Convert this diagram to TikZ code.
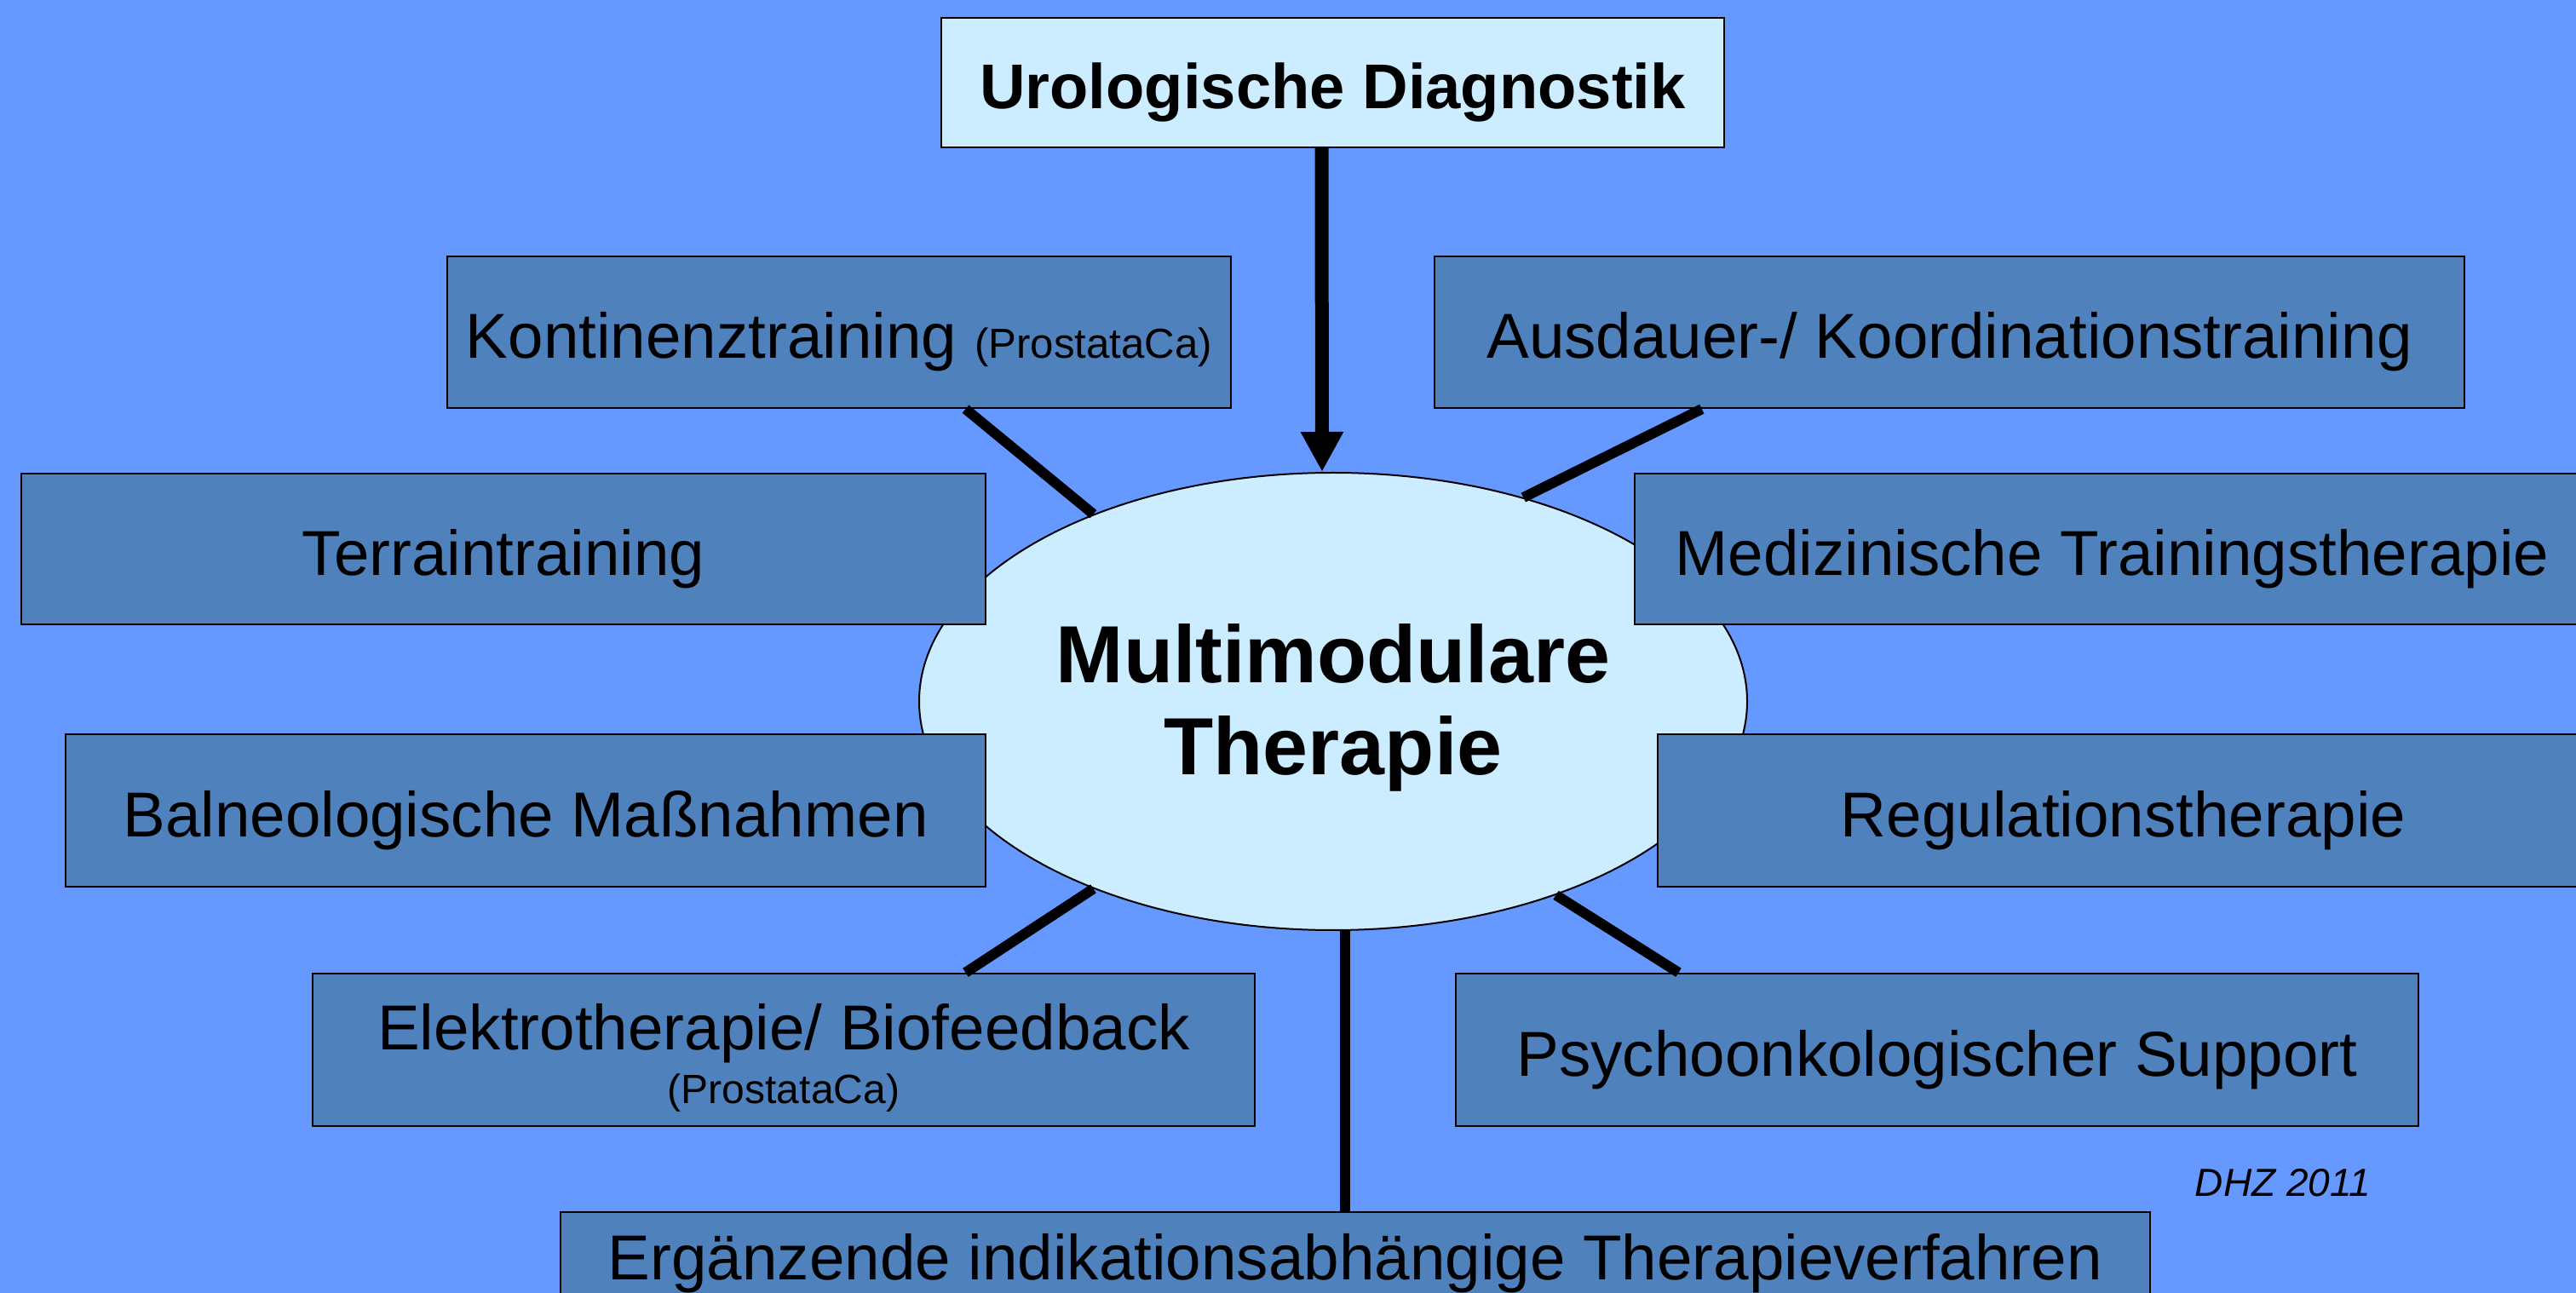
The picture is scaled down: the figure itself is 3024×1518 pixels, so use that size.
\documentclass[tikz,border=0pt]{standalone}
\usepackage{fontspec}
\setmainfont{Liberation Sans}
\usetikzlibrary{calc,arrows.meta,shapes.geometric}
\definecolor{bg}{HTML}{6699FF}
\definecolor{boxfill}{HTML}{4F81BD}
\definecolor{lightfill}{HTML}{CCECFF}
\tikzset{
  modbox/.style={draw=black, line width=0.6pt, fill=boxfill, inner sep=0pt,
    font=\fontsize{18.65}{22}\selectfont, text height=19.4pt, text depth=3.95pt},
  topbox/.style={modbox, fill=lightfill, font=\fontsize{18.55}{22}\selectfont\bfseries},
  centerell/.style={ellipse, draw=black, line width=0.5pt, fill=lightfill, inner sep=0pt,
    align=center, font=\fontsize{23.8}{27}\selectfont\bfseries, text height=48.25pt, text depth=5pt},
  conn/.style={line width=3pt, draw=black},
  mainarrow/.style={line width=4pt, draw=black, -{Triangle[width=11.75pt,length=11.75pt]}}
}
\begin{document}
\begin{tikzpicture}[x=0.25pt,y=-0.25pt]
\useasboundingbox (0,0) rectangle (3024,1518);
\clip (0,0) rectangle (3024,1518);
\fill[bg] (0,0) rectangle (3024,1518);

\node[centerell, minimum width=243pt, minimum height=134.25pt] (ell) at (1565,823.5) {Multimodulare\\Therapie};

\node[topbox, minimum width=229.75pt, minimum height=38pt] (urol) at (1564.5,97) {Urologische Diagnostik};
\node[modbox, minimum width=230pt, minimum height=44.5pt] (kont) at (985,390) {Kontinenztraining {\fontsize{12.3}{14}\selectfont (ProstataCa)}};
\node[modbox, minimum width=302.25pt, minimum height=44.5pt] (ausd) at (2288.5,390) {Ausdauer-/ Koordinationstraining};
\node[modbox, minimum width=283pt, minimum height=44.25pt] (terr) at (591,644.5) {Terraintraining};
\node[modbox, minimum width=280.25pt, minimum height=44.25pt] (medi) at (2479.5,644.5) {Medizinische Trainingstherapie};
\node[modbox, minimum width=270pt, minimum height=44.75pt] (baln) at (617,951.5) {Balneologische Maßnahmen};
\node[modbox, minimum width=273.25pt, minimum height=44.75pt] (regu) at (2492.5,951.5) {Regulationstherapie};
\node[modbox, minimum width=276.5pt, minimum height=44.75pt, align=center, text height=34.25pt, text depth=3pt] (elek) at (920,1232.5) {Elektrotherapie/ Biofeedback\\[-6.25pt]{\fontsize{12}{14}\selectfont (ProstataCa)}};
\node[modbox, minimum width=282.5pt, minimum height=44.75pt] (psyc) at (2274,1232.5) {Psychoonkologischer Support};
\node[modbox, minimum width=466.5pt, minimum height=24.25pt] (erg) at (1591,1471.5) {Ergänzende indikationsabhängige Therapieverfahren};

\node[anchor=base, font=\fontsize{11.5}{14}\selectfont\itshape] (dhz) at (2680,1404) {DHZ 2011};

\draw[mainarrow] ($(urol.south)+(-13,0)$) -- ($(ell.north)+(-13,0)$);
\draw[conn] ($(kont.south west)!0.661!(kont.south east)$) -- (ell.142);
\draw[conn] ($(ausd.south west)!0.26!(ausd.south east)$) -- (ell.47);
\draw[conn] ($(elek.north west)!0.6926!(elek.north east)$) -- (ell.218);
\draw[conn] ($(psyc.north west)!0.232!(psyc.north east)$) -- (ell.319);
\draw[conn] (ell.-87.4) -- (ell.-87.4 |- erg.north);
\end{tikzpicture}
\end{document}
